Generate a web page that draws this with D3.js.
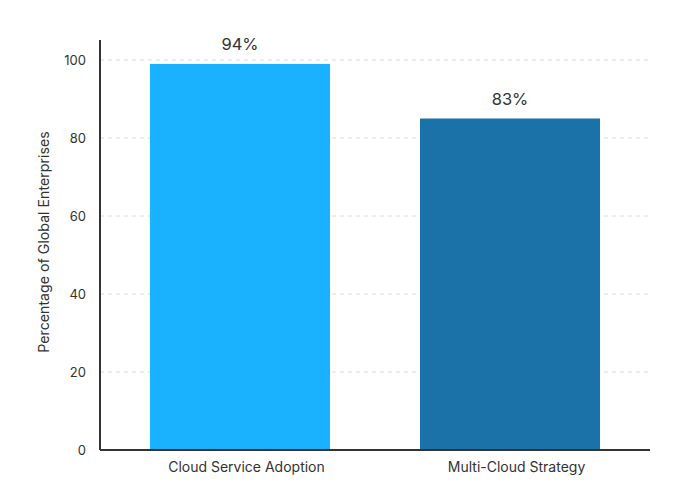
<!DOCTYPE html>
<html><head><meta charset="utf-8">
<script src="https://cdn.jsdelivr.net/npm/d3@7"></script>
<style>body{margin:0;background:#fff}svg{font-family:Inter,"Noto Sans",sans-serif}</style>
</head><body><svg id="c" width="700" height="500"></svg>
<script>
const categories = ["Cloud Service Adoption", "Multi-Cloud Strategy"];
const values = [99, 85];
const valueLabels = ["94%", "83%"];
const colors = ["#1ab2ff", "#1a72a8"];
const yTicks = [0, 20, 40, 60, 80, 100];

const svg = d3.select("#c");
const m = {l:100, r:50, t:60, b:50};
const W = 700, H = 500;
const x = d3.scaleBand().domain(categories).range([m.l, W-m.r]).paddingInner(1/3).paddingOuter(0.185);
const y = d3.scaleLinear().domain([0,100]).range([H-m.b, m.t]);

// grid
svg.append("g").selectAll("line").data(yTicks.filter(d=>d>0)).join("line")
  .attr("x1", m.l).attr("x2", W-m.r).attr("y1", d=>y(d)).attr("y2", d=>y(d))
  .attr("stroke", "#dcdcdc").attr("stroke-dasharray", "4,4");

// bars
svg.append("g").selectAll("rect").data(categories).join("rect")
  .attr("x", d=>x(d)).attr("width", x.bandwidth())
  .attr("y", (d,i)=>y(values[i])).attr("height", (d,i)=>y(0)-y(values[i]))
  .attr("fill", (d,i)=>colors[i]);

// value labels
svg.append("g").selectAll("text").data(categories).join("text")
  .attr("x", d=>x(d)+x.bandwidth()/2).attr("y", (d,i)=>y(values[i])-14)
  .attr("text-anchor","middle").attr("font-size",16.5).attr("fill","#333")
  .text((d,i)=>valueLabels[i]);

// y axis
const ya = svg.append("g").attr("transform",`translate(${m.l},0)`)
  .call(d3.axisLeft(y).tickValues(yTicks).tickSize(0).tickPadding(14));
ya.select(".domain").attr("stroke","#333").attr("stroke-width",2).attr("d",`M0,${y(0)}V40`);
ya.selectAll("text").attr("font-size",13).attr("fill","#333").attr("font-family","Inter");

// x axis
const xa = svg.append("g").attr("transform",`translate(0,${y(0)})`)
  .call(d3.axisBottom(x).tickSize(0).tickPadding(12));
xa.select(".domain").attr("stroke","#333").attr("stroke-width",2).attr("d",`M${m.l},0H${W-m.r}`);
xa.selectAll("text").attr("font-size",14).attr("fill","#333").attr("font-family","Inter").attr("dx", 6.5);

svg.append("text").attr("transform",`translate(49,242) rotate(-90)`)
  .attr("text-anchor","middle").attr("font-size",14.2).attr("fill","#333")
  .text("Percentage of Global Enterprises");
</script></body></html>
